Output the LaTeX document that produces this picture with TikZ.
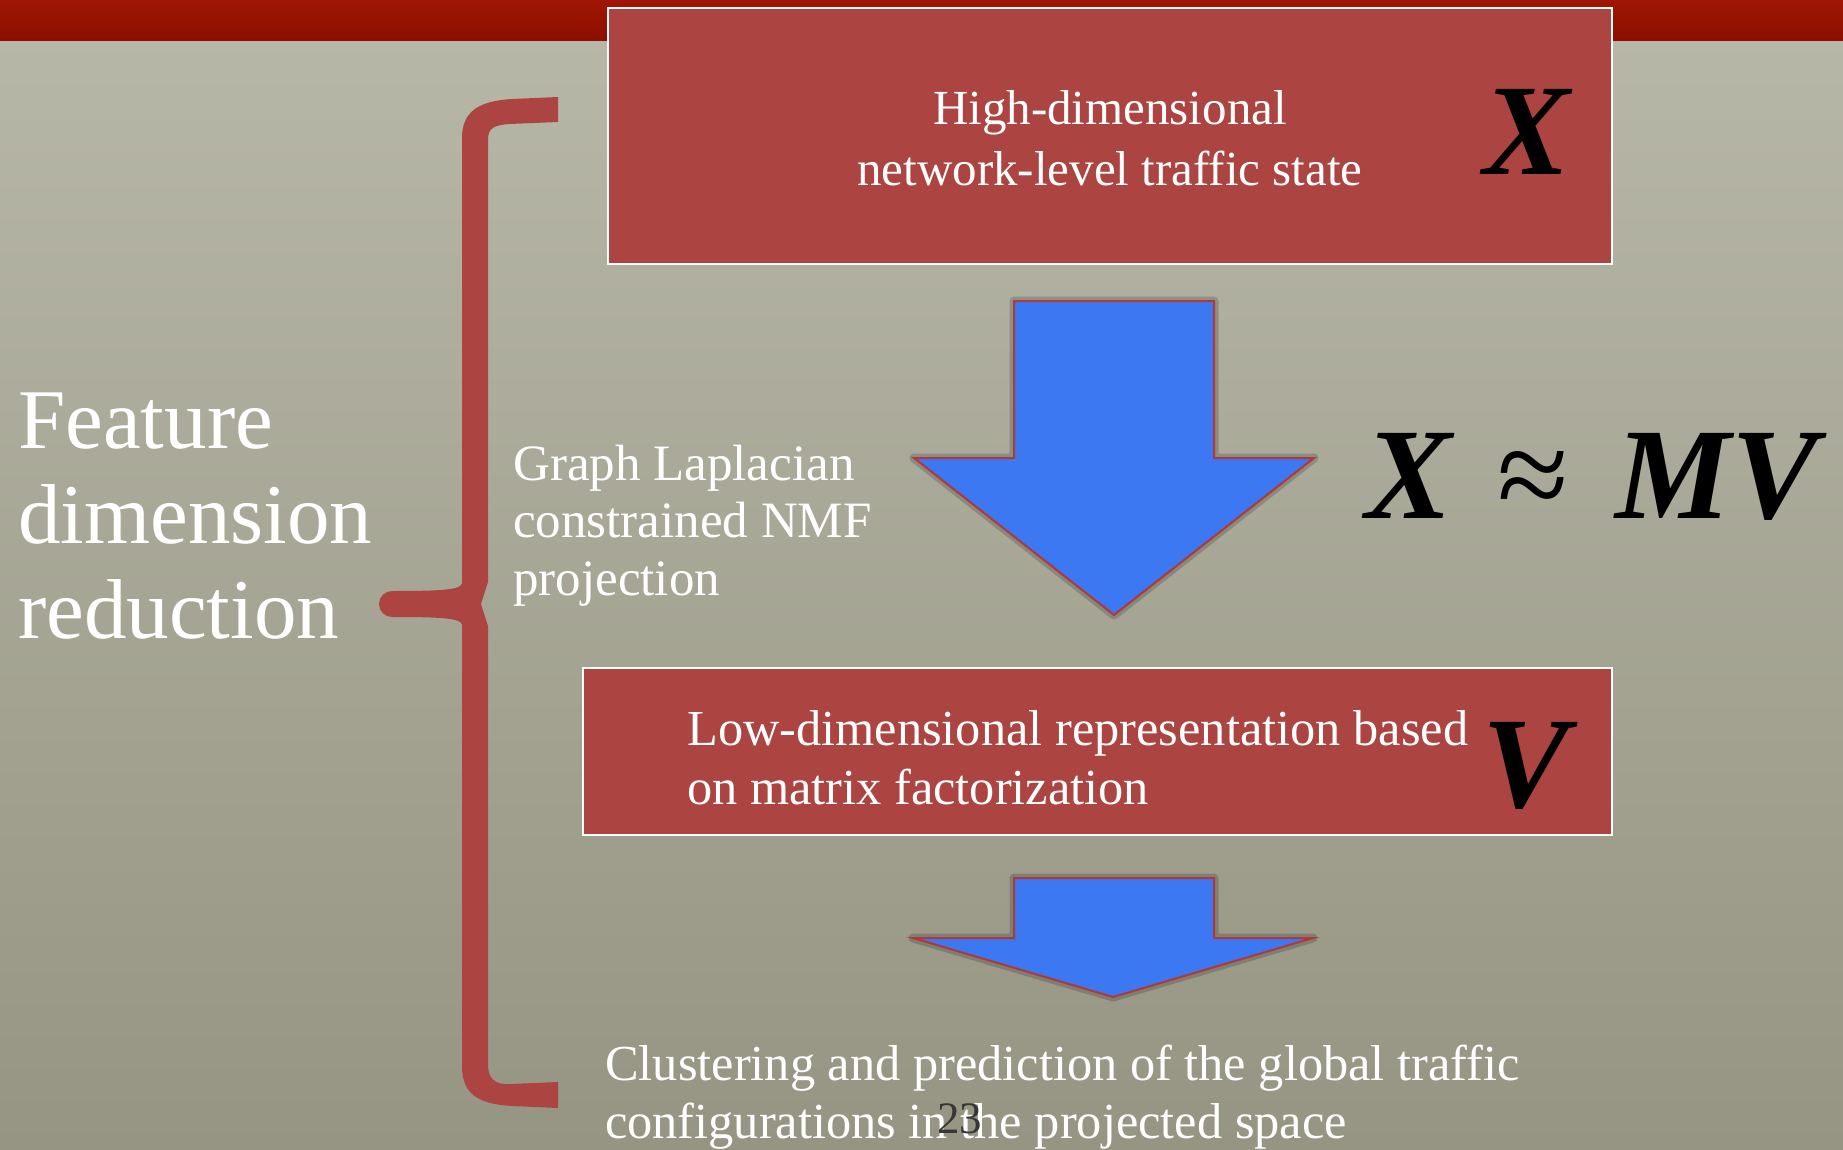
\documentclass[tikz,border=0pt]{standalone}
\usepackage{fontspec}
\setmainfont{Liberation Serif}
\usetikzlibrary{positioning}

\definecolor{slidered}{RGB}{172,68,66}
\definecolor{barred}{RGB}{160,22,2}
\definecolor{bardark}{RGB}{140,14,0}
\definecolor{bgtop}{RGB}{184,184,169}
\definecolor{bgbot}{RGB}{150,149,131}
\definecolor{arrowblue}{RGB}{59,120,242}
\definecolor{arrowedge}{RGB}{178,56,56}
\definecolor{pagegray}{RGB}{55,55,55}

\begin{document}
\begin{tikzpicture}[x=1pt,y=-1pt]
        \tikzset{stepbox/.style = {draw=white, line width=2.5pt, fill=slidered, inner sep=0pt}};
        \tikzset{blockarrow/.style = {draw=arrowedge, line width=2pt, fill=arrowblue, line join=miter,
                 preaction={draw=black, opacity=0.18, line width=9pt, line join=round}}};
        \tikzset{label/.style = {text=white, inner sep=0pt, anchor=base west, align=left}};
        \tikzset{symbol/.style = {text=black, inner sep=0pt, anchor=base west, font=\fontsize{130}{130}\selectfont\bfseries\itshape}};
        \useasboundingbox (0,0) rectangle (1843,1150);
        % background and title bar
        \shade[top color=bgtop, bottom color=bgbot] (0,0) rectangle (1843,1150);
        \shade[top color=barred, bottom color=bardark] (0,0) rectangle (1843,41);
        % boxes
        \node[stepbox, minimum width=1004pt, minimum height=256pt] (highbox) at (1110,136) {};
        \node[stepbox, minimum width=1029pt, minimum height=167pt] (lowbox) at (1097.5,751.5) {};
        \node[text=white, inner sep=0pt, anchor=base, align=center, font=\fontsize{49}{61}\selectfont]
             (hightext) at (1110,186) {High-dimensional\\network-level traffic state};
        \node[symbol] (xsym) at (1483,175) {X};
        \node[label, font=\fontsize{50.4}{59}\selectfont] (lowtext) at (687,804)
             {Low-dimensional representation based\\on matrix factorization};
        \node[symbol] (vsym) at (1482,807) {V};
        % block arrows
        \draw[blockarrow] (1014,301) -- (1214,301) -- (1214,458) -- (1314,458) -- (1114,615)
                          -- (914,458) -- (1014,458) -- cycle;
        \draw[blockarrow] (1014,878) -- (1214,878) -- (1214,938) -- (1313,938) -- (1113,997)
                          -- (913,938) -- (1014,938) -- cycle;
        % brace
        \fill[slidered] (558,97) -- (512,99) .. controls (478,101) and (462,112) .. (462,138)
              -- (462,583) .. controls (462,590) and (440,591) .. (392,591)
              arc[start angle=270, end angle=90, radius=13]
              .. controls (440,617) and (462,618) .. (462,625)
              -- (462,1066) .. controls (462,1094) and (478,1104) .. (512,1106) -- (558,1108)
              -- (558,1082) -- (510,1084) .. controls (494,1085) and (488,1078) .. (488,1064)
              -- (488,626) -- (481,604) -- (488,582)
              -- (488,140) .. controls (488,128) and (494,125) .. (510,124) -- (558,122) -- cycle;
        % texts
        \node[label, font=\fontsize{85}{95}\selectfont] (feature) at (18,638)
             {Feature\\dimension\\reduction};
        \node[label, font=\fontsize{51}{57.5}\selectfont] (graphlap) at (513,595)
             {Graph Laplacian\\constrained NMF\\projection};
        \node[symbol] (formula) at (1365,518) {X\hspace{0.33em}\textup{\mdseries ≈}\hspace{0.36em}MV};
        \node[label, font=\fontsize{50.4}{58}\selectfont] (cluster) at (605,1138)
             {Clustering and prediction of the global traffic\\configurations in the projected space};
        \node[text=pagegray, inner sep=0pt, anchor=base west, font=\fontsize{45}{45}\selectfont]
             (pagenum) at (937,1133) {23};
\end{tikzpicture}
\end{document}
